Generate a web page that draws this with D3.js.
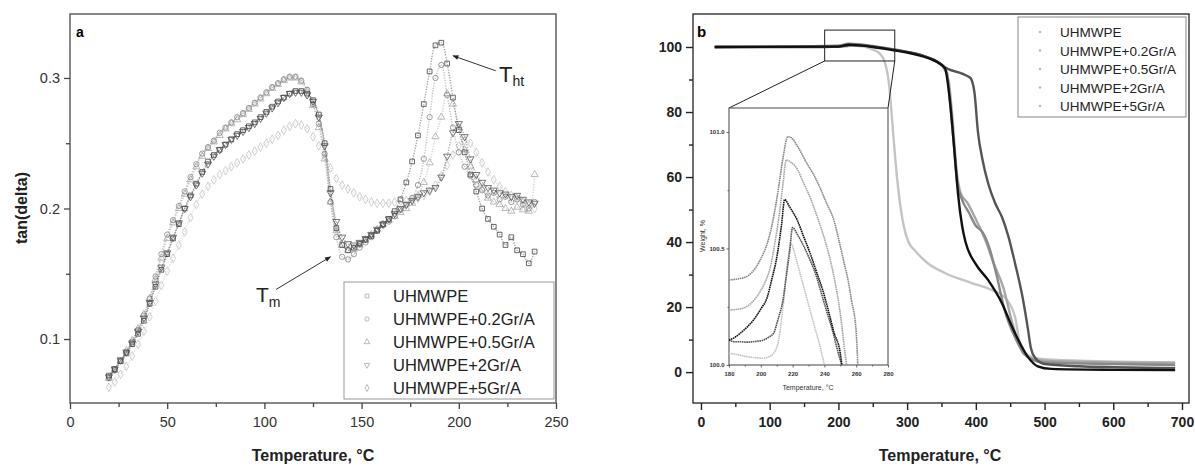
<!DOCTYPE html>
<html>
<head>
<meta charset="utf-8">
<script src="https://cdn.jsdelivr.net/npm/d3@7"></script>
<style>
  body { margin: 0; background: #fff; }
  svg { font-family: Arial, "Liberation Sans", sans-serif; }
</style>
</head>
<body>
<script>
// ---- data ----
const seriesNames = ['UHMWPE', 'UHMWPE+0.2Gr/A', 'UHMWPE+0.5Gr/A', 'UHMWPE+2Gr/A', 'UHMWPE+5Gr/A'];

// panel a: tan(delta) vs temperature
const tempA = [20,23,26,29,32,35,38,41,44,47, 50,53,56,59,62,65,68,71,74,77,
  80,83,86,89,92,95,98,101,104,107, 110,113,116,119,122,125,128,131,134,137,
  140,143,146,149,152,155,158,161,164,167, 170,173,176,179,182,185,188,191,194,197,
  200,203,206,209,212,215,218,221,224,227, 230,233,236,239];
const tanUHMWPE = [.072,.077,.083,.089,.096,.104,.114,.127,.14,.153, .165,.177,.188,.2,.21,.219,.228,.236,.241,.245,
  .249,.253,.257,.26,.263,.266,.27,.274,.278,.282, .285,.288,.29,.29,.288,.283,.272,.25,.215,.185,
  .172,.168,.17,.173,.176,.179,.183,.188,.192,.198, .207,.22,.236,.256,.28,.305,.325,.327,.311,.285,
  .26,.243,.226,.213,.2,.192,.186,.18,.172,.178, .168,.165,.158,.167];
const tanGr02 = [.07,.076,.083,.09,.098,.107,.118,.131,.148,.165, .18,.191,.202,.213,.224,.234,.242,.247,.252,.258,
  .262,.266,.27,.273,.277,.281,.285,.289,.293,.296, .299,.301,.301,.298,.291,.28,.265,.242,.205,.178,
  .163,.161,.165,.17,.174,.178,.183,.187,.19,.194, .199,.203,.208,.218,.238,.27,.3,.31,.287,.262,
  .243,.232,.225,.218,.214,.21,.212,.207,.209,.205, .207,.203,.2,.205];
const tanGr05 = [.07,.076,.083,.091,.099,.108,.119,.131,.146,.162, .177,.189,.2,.211,.222,.232,.24,.246,.251,.256,
  .261,.265,.268,.272,.276,.28,.284,.288,.292,.295, .298,.3,.3,.297,.29,.279,.262,.238,.205,.183,
  .172,.168,.169,.172,.176,.18,.184,.188,.191,.194, .197,.2,.204,.21,.22,.235,.255,.27,.288,.28,
  .262,.245,.232,.222,.215,.208,.205,.203,.2,.198, .201,.199,.198,.226];
const tanGr2 = [.071,.077,.084,.09,.097,.106,.116,.128,.142,.155, .166,.178,.189,.2,.209,.218,.227,.234,.24,.245,
  .249,.253,.256,.259,.262,.265,.269,.273,.277,.281, .285,.288,.289,.289,.287,.282,.27,.248,.212,.19,
  .178,.173,.172,.174,.177,.18,.184,.188,.192,.196, .2,.203,.206,.209,.212,.214,.216,.224,.24,.258,
  .265,.255,.238,.226,.22,.216,.214,.212,.211,.209, .21,.207,.205,.204];
const tanGr5 = [.063,.067,.073,.079,.087,.096,.106,.117,.129,.141, .152,.162,.172,.182,.193,.203,.211,.217,.222,.226,
  .229,.232,.235,.238,.241,.244,.247,.25,.253,.256, .26,.263,.265,.264,.261,.255,.248,.24,.231,.223,
  .218,.215,.212,.209,.207,.205,.204,.204,.204,.205, .206,.206,.207,.208,.21,.213,.218,.225,.233,.241,
  .248,.252,.25,.243,.235,.228,.222,.217,.213,.21, .208,.205,.203,.2];

// panel b: TGA weight (%) vs temperature
const tgaUHMWPE = [[20,100],[100,100],[180,100],[200,100.1],[220,100.6],[240,100.4],[260,99.9],[280,99.2],[300,98.5],
  [320,97.6],[340,95.8],[360,93.2],[380,91.8],[392,90.5],[398,86],[403,74],[410,65],[418,58],[428,52],[438,47.7],
  [447,42],[457,33.5],[468,23],[476,13],[480,7.5],[486,4.5],[500,2.5],[550,1.8],[600,1.5],[690,1.2]];
const tgaGr02 = [[20,100],[200,100.4],[215,101],[230,100.9],[250,100.3],[265,99.8],[300,98.5],[330,96.8],[350,94.5],
  [358,92],[362,84],[368,70],[373,58],[380,53],[390,49],[400,45],[410,43],[420,38],[430,30],[442,19],[457,10.7],
  [467,6.7],[480,4],[500,3],[600,2.5],[690,2.2]];
const tgaGr05 = [[20,100],[200,100.03],[212,100.1],[219,100.52],[230,100.26],[240,100],[252,99],[260,98],[268,95],
  [274,88],[278,78],[283,65],[289,53],[295,45],[302,40],[311,37.5],[330,33.5],[355,30.5],[394,27.4],[424,25.2],
  [442,23],[457,17],[464,9],[472,5.8],[490,4.2],[550,3.5],[690,3]];
const tgaGr2 = [[20,100],[200,100.1],[215,100.7],[230,100.5],[250,100],[280,99],[300,98.3],[320,97.3],[340,95.8],
  [355,93.5],[362,84],[370,65],[374,55],[380,45],[385,40],[399,33.5],[418,28.3],[438,21.2],[453,13.8],[462,9.8],
  [476,4.6],[490,1.8],[510,1],[600,0.7],[690,0.6]];
const tgaGr5 = [[20,100],[200,100.3],[216,100.88],[230,100.7],[253,100],[270,99.5],[300,98.4],[330,96.8],[350,94.5],
  [360,90],[366,78],[372,62],[378,55],[388,52],[400,47],[415,40],[425,34],[440,26],[452,16],[462,9],[470,5.5],
  [485,4],[500,3.5],[600,3],[690,2.8]];

// inset: zoom of 180-280 degC
const insUHMWPE = [[180,100.107],[183,100.1],[187,100.1],[191,100.098],[195,100.1],[199,100.103],[202,100.108],[205,100.12],
  [208,100.136],[211,100.2],[214,100.28],[216,100.38],[218,100.48],[220,100.59],[223,100.56],[227,100.51],[231,100.45],
  [235,100.38],[238,100.31],[241,100.24],[245,100.15],[248,100.07],[250,100.02],[251,100]];
const insGr02 = [[180,100.365],[186,100.37],[191,100.379],[197,100.42],[201,100.47],[204,100.52],[207,100.6],[210,100.71],
  [212,100.8],[214,100.89],[217,100.98],[220,100.97],[223,100.94],[229,100.865],[233,100.82],[237,100.765],[241,100.7],
  [246,100.62],[249,100.54],[252,100.45],[255,100.36],[257,100.28],[260,100.14],[261,100]];
const insGr05 = [[180,100.05],[185,100.045],[191,100.036],[196,100.032],[201,100.029],[205,100.035],[208,100.05],[211,100.1],
  [214,100.25],[217,100.45],[219,100.52],[222,100.46],[226,100.36],[230,100.26],[234,100.16],[238,100.06],[240,100]];
const insGr2 = [[180,100.107],[184,100.12],[187,100.136],[191,100.16],[195,100.19],[200,100.24],[204,100.29],[207,100.37],
  [210,100.46],[213,100.6],[215,100.71],[218,100.68],[223,100.62],[227,100.55],[231,100.48],[235,100.4],[239,100.32],
  [243,100.22],[246,100.14],[250,100.05],[251,100]];
const insGr5 = [[180,100.236],[186,100.24],[191,100.25],[196,100.28],[200,100.32],[203,100.36],[206,100.42],[209,100.53],
  [212,100.665],[214,100.78],[216,100.88],[219,100.87],[223,100.84],[227,100.78],[231,100.72],[235,100.645],[239,100.565],
  [243,100.47],[246,100.38],[250,100.22],[253,100.05],[254,100]];

const ticksA_x = [0, 50, 100, 150, 200, 250];
const ticksA_y = [0.1, 0.2, 0.3];
const ticksB_x = [0, 100, 200, 300, 400, 500, 600, 700];
const ticksB_y = [0, 20, 40, 60, 80, 100];
const ticksI_x = [180, 200, 220, 240, 260, 280];
const ticksI_y = [100, 100.5, 101];

// ---- setup ----
const svg = d3.select('body').append('svg').attr('width', 1195).attr('height', 467);
const defs = svg.append('defs');

// ========== panel a ==========
const xA = d3.scaleLinear().domain([0, 250]).range([70, 556]);
const yA = d3.scaleLinear().domain([0.051, 0.349]).range([403, 14]);

const aSeries = [
  { name: seriesNames[4], vals: tanGr5, color: '#c4c4c4', sym: d3.symbolDiamond, rot: 0 },
  { name: seriesNames[2], vals: tanGr05, color: '#a8a8a8', sym: d3.symbolTriangle, rot: 0 },
  { name: seriesNames[1], vals: tanGr02, color: '#858585', sym: d3.symbolCircle, rot: 0 },
  { name: seriesNames[3], vals: tanGr2, color: '#555', sym: d3.symbolTriangle, rot: 180 },
  { name: seriesNames[0], vals: tanUHMWPE, color: '#444', sym: d3.symbolSquare, rot: 0 }
];

const gA = svg.append('g');
const lineA = d3.line().x(d => xA(d[0])).y(d => yA(d[1])).curve(d3.curveCatmullRom);
aSeries.forEach(s => {
  const pts = tempA.map((t, i) => [t, s.vals[i]]);
  gA.append('path').datum(pts).attr('d', lineA)
    .attr('fill', 'none').attr('stroke', s.color).attr('stroke-width', 1.4)
    .attr('stroke-dasharray', '1.2,1.4').attr('opacity', 0.5);
  gA.append('g').selectAll('path').data(pts).enter().append('path')
    .attr('d', d3.symbol().type(s.sym).size(22))
    .attr('transform', d => `translate(${xA(d[0])},${yA(d[1])}) rotate(${s.rot})`)
    .attr('fill', 'none').attr('stroke', s.color).attr('stroke-width', 0.8);
});

// frame + axes a
gA.append('rect').attr('x', 70).attr('y', 14).attr('width', 486).attr('height', 389)
  .attr('fill', 'none').attr('stroke', '#555').attr('stroke-width', 1.4);

gA.append('g').attr('transform', 'translate(0,403)')
  .call(d3.axisBottom(xA).tickValues(ticksA_x).tickSize(6).tickSizeOuter(0).tickPadding(8));
gA.append('g').attr('transform', 'translate(0,403)')
  .call(d3.axisBottom(xA).tickValues([25, 75, 125, 175, 225]).tickSize(4).tickFormat(''));
gA.append('g').attr('transform', 'translate(70,0)')
  .call(d3.axisLeft(yA).tickValues(ticksA_y).tickFormat(d3.format('.1f')).tickSize(6).tickSizeOuter(0).tickPadding(4));
gA.append('g').attr('transform', 'translate(70,0)')
  .call(d3.axisLeft(yA).tickValues([0.15, 0.25]).tickSize(4).tickFormat(''));
gA.selectAll('.domain').remove();
gA.selectAll('.tick line').attr('stroke', '#444').attr('stroke-width', 1.3);
gA.selectAll('.tick text').attr('font-size', 14.5).attr('fill', '#333')
  .attr('font-family', 'Arial, "Liberation Sans", sans-serif');

gA.append('text').attr('x', 76).attr('y', 37).attr('font-size', 14).attr('font-weight', 'bold').text('a');
gA.append('text').attr('transform', 'translate(27,208) rotate(-90)').attr('text-anchor', 'middle')
  .attr('font-size', 16).attr('font-weight', 'bold').attr('fill', '#222').text('tan(delta)');
gA.append('text').attr('x', 313).attr('y', 461).attr('text-anchor', 'middle')
  .attr('font-size', 16).attr('font-weight', 'bold').attr('fill', '#222').text('Temperature, \u00B0C');

// annotations
defs.append('marker').attr('id', 'arr').attr('viewBox', '0 0 10 10').attr('refX', 9).attr('refY', 5)
  .attr('markerWidth', 7).attr('markerHeight', 6).attr('orient', 'auto')
  .append('path').attr('d', 'M0,1 L10,5 L0,9 Z').attr('fill', '#222');
gA.append('line').attr('x1', xA(219)).attr('y1', yA(0.3055)).attr('x2', xA(197)).attr('y2', yA(0.317))
  .attr('stroke', '#333').attr('stroke-width', 1).attr('marker-end', 'url(#arr)');
gA.append('line').attr('x1', xA(106)).attr('y1', yA(0.138)).attr('x2', xA(134)).attr('y2', yA(0.163))
  .attr('stroke', '#333').attr('stroke-width', 1).attr('marker-end', 'url(#arr)');
const tht = gA.append('text').attr('x', 499).attr('y', 82).attr('font-size', 22).attr('fill', '#222');
tht.append('tspan').text('T');
tht.append('tspan').attr('font-size', 14).attr('dy', 4).text('ht');
const tm = gA.append('text').attr('x', 256).attr('y', 302).attr('font-size', 21).attr('fill', '#222');
tm.append('tspan').text('T');
tm.append('tspan').attr('font-size', 14).attr('dy', 5).text('m');

// legend a
const legA = gA.append('g');
legA.append('rect').attr('x', 344).attr('y', 282).attr('width', 210).attr('height', 117)
  .attr('fill', '#fff').attr('stroke', '#999').attr('stroke-width', 1);
const legOrderA = [4, 2, 1, 3, 0].map(i => aSeries[i]);
legOrderA.forEach((s, i) => {
  const cy = 296 + i * 23;
  legA.append('path').attr('d', d3.symbol().type(s.sym).size(14))
    .attr('transform', `translate(367,${cy}) rotate(${s.rot})`)
    .attr('fill', 'none').attr('stroke', '#aaa').attr('stroke-width', 0.8);
  legA.append('text').attr('x', 393).attr('y', cy + 6).attr('font-size', 16.5).attr('fill', '#222').text(s.name);
});

// ========== panel b ==========
const xB = d3.scaleLinear().domain([-11.6, 710.2]).range([693, 1189]);
const yB = d3.scaleLinear().domain([-9.5, 110.15]).range([403, 14]);
const gB = svg.append('g');

const bSeries = [
  { name: seriesNames[2], pts: tgaGr05, ins: insGr05, color: '#c4c4c4' },
  { name: seriesNames[4], pts: tgaGr5, ins: insGr5, color: '#a6a6a6' },
  { name: seriesNames[1], pts: tgaGr02, ins: insGr02, color: '#888' },
  { name: seriesNames[0], pts: tgaUHMWPE, ins: insUHMWPE, color: '#555' },
  { name: seriesNames[3], pts: tgaGr2, ins: insGr2, color: '#111' }
];
const lineB = d3.line().x(d => xB(d[0])).y(d => yB(d[1])).curve(d3.curveMonotoneX);
bSeries.forEach(s => {
  gB.append('path').datum(s.pts).attr('d', lineB).attr('fill', 'none')
    .attr('stroke', s.color).attr('stroke-width', 2.4);
});

gB.append('rect').attr('x', 693).attr('y', 14).attr('width', 496).attr('height', 389)
  .attr('fill', 'none').attr('stroke', '#222').attr('stroke-width', 1.3);
gB.append('g').attr('transform', 'translate(0,403)')
  .call(d3.axisBottom(xB).tickValues(ticksB_x).tickSize(7).tickSizeOuter(0).tickPadding(7));
gB.append('g').attr('transform', 'translate(0,403)')
  .call(d3.axisBottom(xB).tickValues([50, 150, 250, 350, 450, 550, 650]).tickSize(4).tickFormat(''));
gB.append('g').attr('transform', 'translate(693,0)')
  .call(d3.axisLeft(yB).tickValues(ticksB_y).tickSize(7).tickSizeOuter(0).tickPadding(4));
gB.append('g').attr('transform', 'translate(693,0)')
  .call(d3.axisLeft(yB).tickValues([10, 30, 50, 70, 90]).tickSize(4).tickFormat(''));
gB.selectAll('.domain').remove();
gB.selectAll('.tick line').attr('stroke', '#222').attr('stroke-width', 1.4);
gB.selectAll('.tick text').attr('font-size', 14).attr('font-weight', 'bold').attr('fill', '#222')
  .attr('font-family', 'Arial, "Liberation Sans", sans-serif');

gB.append('text').attr('x', 697).attr('y', 37).attr('font-size', 15).attr('font-weight', 'bold').text('b');
gB.append('text').attr('x', 940).attr('y', 461).attr('text-anchor', 'middle')
  .attr('font-size', 16).attr('font-weight', 'bold').attr('fill', '#222').text('Temperature, \u00B0C');

// zoom box + connectors
gB.append('rect').attr('x', xB(180)).attr('y', yB(105.2)).attr('width', xB(282) - xB(180))
  .attr('height', yB(95.7) - yB(105.2)).attr('fill', 'none').attr('stroke', '#222').attr('stroke-width', 1);

// inset
const xI = d3.scaleLinear().domain([180, 280]).range([729, 888]);
const yI = d3.scaleLinear().domain([100, 101.103]).range([365, 108]);
gB.append('line').attr('x1', xB(180)).attr('y1', yB(95.7)).attr('x2', 729).attr('y2', 108)
  .attr('stroke', '#222').attr('stroke-width', 1);
gB.append('line').attr('x1', xB(282)).attr('y1', yB(95.7)).attr('x2', 888).attr('y2', 108)
  .attr('stroke', '#222').attr('stroke-width', 1);
const gI = gB.append('g');
gI.append('rect').attr('x', 729).attr('y', 108).attr('width', 159).attr('height', 257)
  .attr('fill', '#fff').attr('stroke', '#444').attr('stroke-width', 1);
defs.append('clipPath').attr('id', 'clipI').append('rect')
  .attr('x', 729).attr('y', 108).attr('width', 159).attr('height', 257);
const lineI = d3.line().x(d => xI(d[0])).y(d => yI(d[1])).curve(d3.curveMonotoneX);
const gIc = gI.append('g').attr('clip-path', 'url(#clipI)');
bSeries.forEach(s => {
  gIc.append('path').datum(s.ins).attr('d', lineI).attr('fill', 'none')
    .attr('stroke', s.color).attr('stroke-width', 1.6).attr('stroke-dasharray', '1.6,0.6');
});
gI.append('g').attr('transform', 'translate(0,365)')
  .call(d3.axisBottom(xI).tickValues(ticksI_x).tickSize(2.5).tickSizeOuter(0).tickPadding(4));
gI.append('g').attr('transform', 'translate(0,365)')
  .call(d3.axisBottom(xI).tickValues([190, 210, 230, 250, 270]).tickSize(1.5).tickFormat(''));
gI.append('g').attr('transform', 'translate(729,0)')
  .call(d3.axisLeft(yI).tickValues(ticksI_y).tickFormat(d3.format('.1f')).tickSize(2.5).tickSizeOuter(0).tickPadding(2));
gI.append('g').attr('transform', 'translate(729,0)')
  .call(d3.axisLeft(yI).tickValues([100.25, 100.75]).tickSize(1.5).tickFormat(''));
gI.selectAll('.domain').remove();
gI.selectAll('.tick line').attr('stroke', '#444').attr('stroke-width', 0.8);
gI.selectAll('.tick text').attr('font-size', 6).attr('font-weight', 'bold').attr('fill', '#333')
  .attr('font-family', 'Arial, "Liberation Sans", sans-serif');
gI.append('text').attr('x', 808).attr('y', 390).attr('text-anchor', 'middle')
  .attr('font-size', 7).attr('fill', '#333').text('Temperature, \u00B0C');
gI.append('text').attr('transform', 'translate(705,236) rotate(-90)').attr('text-anchor', 'middle')
  .attr('font-size', 7).attr('fill', '#333').text('Weight, %');

// legend b
const legB = gB.append('g');
legB.append('rect').attr('x', 1018).attr('y', 17).attr('width', 168).attr('height', 100)
  .attr('fill', '#fff').attr('stroke', '#888').attr('stroke-width', 1);
const legOrderB = [3, 2, 0, 4, 1].map(i => bSeries[i]);
legOrderB.forEach((s, i) => {
  const cy = 32 + i * 18.5;
  legB.append('circle').attr('cx', 1040).attr('cy', cy).attr('r', 1.3).attr('fill', '#bbb');
  legB.append('text').attr('x', 1060).attr('y', cy + 5).attr('font-size', 13.5).attr('fill', '#222').text(s.name);
});
</script>
</body>
</html>
